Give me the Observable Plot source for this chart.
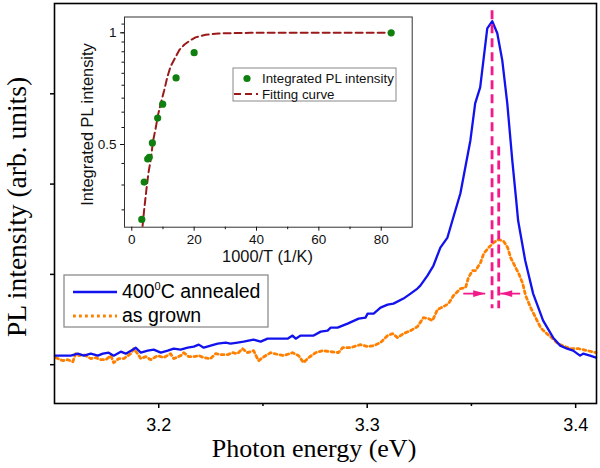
<!DOCTYPE html>
<html><head><meta charset="utf-8">
<script src="https://cdn.jsdelivr.net/npm/d3@7"></script>
<script src="https://cdn.jsdelivr.net/npm/@observablehq/plot@0.6"></script>
<style>
body{margin:0;background:#fff;}
#wrap{position:relative;width:600px;height:468px;overflow:hidden;}
#wrap svg{position:absolute;}
</style></head><body><div id="wrap"></div>
<script>
// ---- main spectrum: 400°C annealed ----
const annealedE = [3.1502,3.1578,3.1612,3.1641,3.1674,3.1708,3.1732,3.1760,3.1784,3.1818,3.1842,3.1875,3.1890,3.1914,3.1947,3.1976,3.2010,3.2043,3.2072,3.2105,3.2139,3.2168,3.2192,3.2216,3.2249,3.2283,3.2321,3.2345,3.2378,3.2407,3.2455,3.2489,3.2522,3.2618,3.2642,3.2657,3.2681,3.2743,3.2777,3.2810,3.2825,3.2858,3.2906,3.2959,3.2992,3.3002,3.3031,3.3064,3.3098,3.3126,3.3174,3.3208,3.3241,3.3255,3.3289,3.3318,3.3351,3.3385,3.3413,3.3437,3.3447,3.3495,3.3518,3.3542,3.3576,3.3600,3.3624,3.3648,3.3672,3.3696,3.3715,3.3724,3.3758,3.3796,3.3844,3.3892,3.3926,3.3959,3.3988,3.4021,3.4036,3.4069,3.4098];
const annealedI = [0.100,0.100,0.122,0.100,0.122,0.100,0.122,0.133,0.100,0.144,0.122,0.166,0.188,0.133,0.155,0.166,0.133,0.155,0.177,0.166,0.188,0.200,0.222,0.188,0.211,0.233,0.244,0.233,0.244,0.255,0.277,0.255,0.288,0.288,0.322,0.288,0.322,0.322,0.366,0.377,0.410,0.410,0.455,0.510,0.521,0.565,0.565,0.632,0.665,0.676,0.732,0.787,0.843,0.876,0.987,1.098,1.297,1.408,1.630,1.818,1.896,2.483,2.894,3.071,3.725,3.803,3.670,3.370,2.894,2.262,1.818,1.596,1.153,0.787,0.488,0.299,0.211,0.177,0.155,0.100,0.122,0.100,0.078];
// ---- main spectrum: as grown ----
const grownE = [3.1506,3.1540,3.1564,3.1588,3.1602,3.1617,3.1641,3.1674,3.1698,3.1722,3.1746,3.1770,3.1784,3.1808,3.1832,3.1866,3.1880,3.1899,3.1914,3.1938,3.1962,3.1995,3.2024,3.2057,3.2072,3.2105,3.2120,3.2144,3.2168,3.2192,3.2216,3.2249,3.2273,3.2297,3.2331,3.2354,3.2378,3.2402,3.2426,3.2455,3.2479,3.2498,3.2537,3.2575,3.2599,3.2642,3.2671,3.2695,3.2719,3.2753,3.2786,3.2824,3.2862,3.2882,3.2920,3.2968,3.3002,3.3031,3.3064,3.3098,3.3122,3.3146,3.3174,3.3208,3.3241,3.3270,3.3294,3.3313,3.3337,3.3366,3.3390,3.3414,3.3448,3.3472,3.3486,3.3505,3.3520,3.3544,3.3559,3.3583,3.3607,3.3631,3.3655,3.3674,3.3688,3.3712,3.3727,3.3746,3.3760,3.3784,3.3808,3.3832,3.3856,3.3890,3.3914,3.3938,3.3976,3.4014,3.4057,3.4098];
const grownI = [0.078,0.044,0.055,0.033,0.122,0.100,0.111,0.067,0.078,0.055,0.055,0.100,0.022,0.067,0.067,0.122,0.177,0.122,0.067,0.089,0.055,0.100,0.078,0.122,0.067,0.100,0.133,0.089,0.089,0.100,0.078,0.067,0.122,0.111,0.111,0.133,0.122,0.177,0.133,0.155,0.044,0.078,0.133,0.111,0.100,0.133,0.100,0.022,0.078,0.133,0.155,0.144,0.133,0.188,0.188,0.222,0.200,0.211,0.244,0.322,0.344,0.299,0.344,0.377,0.421,0.521,0.510,0.488,0.610,0.643,0.676,0.765,0.843,0.854,0.965,1.042,1.042,1.131,1.231,1.297,1.353,1.386,1.364,1.297,1.186,1.075,1.009,0.898,0.765,0.632,0.521,0.410,0.355,0.288,0.233,0.211,0.177,0.177,0.155,0.133];
// ---- peak markers (vertical dashed lines) ----
const peakE  = [3.3599, 3.3631];
const peakTop = [3.92, 2.41];
const peakBottom = [0.62, 0.62];
// ---- width arrows ----
const arrowFrom = [3.3461, 3.3734];
const arrowTo   = [3.3566, 3.3638];
const arrowLevel = [0.787, 0.787];
// ---- main axis ticks ----
const xMajor = [3.2, 3.3, 3.4];
const xMinor = [3.25, 3.35];
const yTicks = [0, 1, 2, 3];

// ---- inset data ----
const invT = [3.2, 3.97, 5.1, 5.6, 6.6, 8.3, 9.9, 14.2, 20.0, 83.2];
const intPL = [0.314, 0.396, 0.457, 0.462, 0.505, 0.589, 0.642, 0.756, 0.884, 1.0];
const fitX = [3.43, 3.91, 4.72, 5.36, 6.16, 6.80, 7.60, 8.40, 9.4, 10.4, 11.4, 12.41, 13.70, 15.30, 16.90, 18.83, 20.43, 23.64, 27.81, 38.07, 60, 83.2];
const fitY = [0.30, 0.33, 0.38, 0.42, 0.46, 0.51, 0.55, 0.60, 0.65, 0.70, 0.76, 0.81, 0.85, 0.90, 0.93, 0.955, 0.972, 0.988, 0.996, 1.0, 1.0, 1.0];
const insetXMajor = [0, 20, 40, 60, 80];
const insetXMinor = [10, 30, 50, 70];
const insetYMajor = [0.5, 1];
const insetYMinor = [6,7,8,9,10,11,12,13,14,15,16,17,18,19].map(k => k / 18);

const annealed = annealedE.map((e, i) => ({e, v: annealedI[i]}));
const grown = grownE.map((e, i) => ({e, v: grownI[i]}));
const peaks = peakE.map((e, i) => ({e, y1: peakTop[i], y2: peakBottom[i]}));
const arrows = arrowFrom.map((a, i) => ({a, b: arrowTo[i], y: arrowLevel[i], rot: arrowTo[i] > a ? 0 : 180}));
const pts = invT.map((x, i) => ({x, y: intPL[i]}));
const fit = fitX.map((x, i) => ({x, y: fitY[i]}));

const BLUE = "#1212ee", ORANGE = "#ff8000", PINK = "#f2198a", DRED = "#9a1a1a", GREEN = "#0f800f";
const SANS = "'Liberation Sans', Arial, sans-serif";
const SERIF = "'Liberation Serif', 'Times New Roman', serif";

const arrowHead = {draw(ctx) { ctx.moveTo(0, 0); ctx.lineTo(-12, -3.3); ctx.lineTo(-12, 3.3); ctx.closePath(); }};

const main = Plot.plot({
  width: 600, height: 468,
  marginLeft: 54, marginRight: 4, marginTop: 3, marginBottom: 65,
  style: {background: "transparent", fontFamily: SANS, color: "#000"},
  x: {domain: [3.15, 3.41]},
  y: {domain: [-0.43, 4.0]},
  marks: [
    Plot.line(grown, {x: "e", y: "v", stroke: ORANGE, strokeWidth: 2.8, strokeDasharray: "2.8,3.2"}),
    Plot.line(annealed, {x: "e", y: "v", stroke: BLUE, strokeWidth: 2.3, strokeLinejoin: "round"}),
    Plot.ruleX(peaks, {x: "e", y1: "y1", y2: "y2", stroke: PINK, strokeWidth: 2.8, strokeDasharray: "9,5"}),
    Plot.link(arrows, {x1: "a", x2: "b", y1: "y", y2: "y", stroke: PINK, strokeWidth: 1.8}),
    Plot.dot(arrows, {x: "b", y: "y", symbol: arrowHead, rotate: "rot", fill: PINK, stroke: "none"}),
    Plot.frame({stroke: "#000", strokeWidth: 1.6}),
    Plot.axisX({ticks: xMajor, tickSize: 5, tickPadding: 10, fontSize: 18, strokeWidth: 1.5, label: null, tickFormat: d3.format(".1f")}),
    Plot.axisX({ticks: xMinor, tickSize: 3, strokeWidth: 1.5, label: null, tickFormat: () => ""}),
    Plot.axisY({ticks: yTicks, tickSize: 4, strokeWidth: 1.5, label: null, tickFormat: () => ""})
  ]
});

const inset = Plot.plot({
  width: 360, height: 268,
  marginLeft: 64, marginRight: 8.3, marginTop: 16.5, marginBottom: 41.3,
  style: {background: "transparent", fontFamily: SANS, color: "#111"},
  x: {domain: [-2.34, 89.94]},
  y: {type: "log", domain: [0.2993, 1.103]},
  marks: [
    Plot.line(fit, {x: "x", y: "y", stroke: DRED, strokeWidth: 2, strokeDasharray: "7,4", clip: true}),
    Plot.dot(pts, {x: "x", y: "y", r: 3.6, fill: GREEN, stroke: "none"}),
    Plot.frame({stroke: "#333", strokeWidth: 1}),
    Plot.axisX({ticks: insetXMajor, tickSize: 4, tickPadding: 3, fontSize: 13.5, label: null, tickFormat: d3.format("d")}),
    Plot.axisX({ticks: insetXMinor, tickSize: 2.5, label: null, tickFormat: () => ""}),
    Plot.axisY({ticks: insetYMajor, tickSize: 4, tickPadding: 4, fontSize: 13.5, label: null, tickFormat: d => d === 1 ? "1" : "0.5"}),
    Plot.axisY({ticks: insetYMinor, tickSize: 2.5, label: null, tickFormat: () => ""})
  ]
});

const wrap = document.getElementById("wrap");
main.style.left = "0px"; main.style.top = "0px";
inset.style.left = "60px"; inset.style.top = "0px";
wrap.appendChild(main);
wrap.appendChild(inset);

// main axis labels
const ms = d3.select(main);
ms.append("text").attr("x", 314).attr("y", 457).attr("text-anchor", "middle")
  .attr("font-family", SERIF).attr("font-size", 26).attr("fill", "#000").text("Photon energy (eV)");
ms.append("text").attr("transform", "translate(26,207) rotate(-90)").attr("text-anchor", "middle")
  .attr("font-family", SERIF).attr("font-size", 27.5).attr("fill", "#000").text("PL intensity (arb. units)");

// main legend
const lg = ms.append("g").attr("font-family", SANS).attr("font-size", 19.5).attr("fill", "#000").attr("text-anchor", "start");
lg.append("rect").attr("x", 64).attr("y", 275).attr("width", 204).attr("height", 52)
  .attr("fill", "#fff").attr("stroke", "#8c8c8c").attr("stroke-width", 1.3);
lg.append("line").attr("x1", 73).attr("x2", 117).attr("y1", 292).attr("y2", 292)
  .attr("stroke", BLUE).attr("stroke-width", 2.3);
const t1 = lg.append("text").attr("x", 122).attr("y", 298).attr("text-anchor", "start");
t1.append("tspan").text("400");
t1.append("tspan").attr("dy", -8).attr("font-size", 11).text("0");
t1.append("tspan").attr("dy", 8).text("C annealed");
lg.append("line").attr("x1", 73).attr("x2", 117).attr("y1", 316).attr("y2", 316)
  .attr("stroke", ORANGE).attr("stroke-width", 2.8).attr("stroke-dasharray", "2.8,3.2");
lg.append("text").attr("x", 122).attr("y", 322).attr("text-anchor", "start").text("as grown");

// inset labels and legend
const is = d3.select(inset);
is.append("text").attr("x", 207.5).attr("y", 262).attr("text-anchor", "middle")
  .attr("font-family", SANS).attr("font-size", 16.4).attr("fill", "#111").text("1000/T (1/K)");
is.append("text").attr("transform", "translate(33,124.5) rotate(-90)").attr("text-anchor", "middle")
  .attr("font-family", SANS).attr("font-size", 16.4).attr("fill", "#111").text("Integrated PL intensity");
const il = is.append("g").attr("font-family", SANS).attr("font-size", 13.3).attr("fill", "#111").attr("text-anchor", "start");
il.append("rect").attr("x", 173).attr("y", 68).attr("width", 163).attr("height", 33)
  .attr("fill", "#fff").attr("stroke", "#888").attr("stroke-width", 1);
il.append("circle").attr("cx", 187).attr("cy", 78.5).attr("r", 3.6).attr("fill", GREEN);
il.append("text").attr("x", 202).attr("y", 83).attr("text-anchor", "start").text("Integrated PL intensity");
il.append("line").attr("x1", 174).attr("x2", 198).attr("y1", 94).attr("y2", 94)
  .attr("stroke", DRED).attr("stroke-width", 2).attr("stroke-dasharray", "7,4");
il.append("text").attr("x", 202).attr("y", 99).attr("text-anchor", "start").text("Fitting curve");
</script></body></html>
